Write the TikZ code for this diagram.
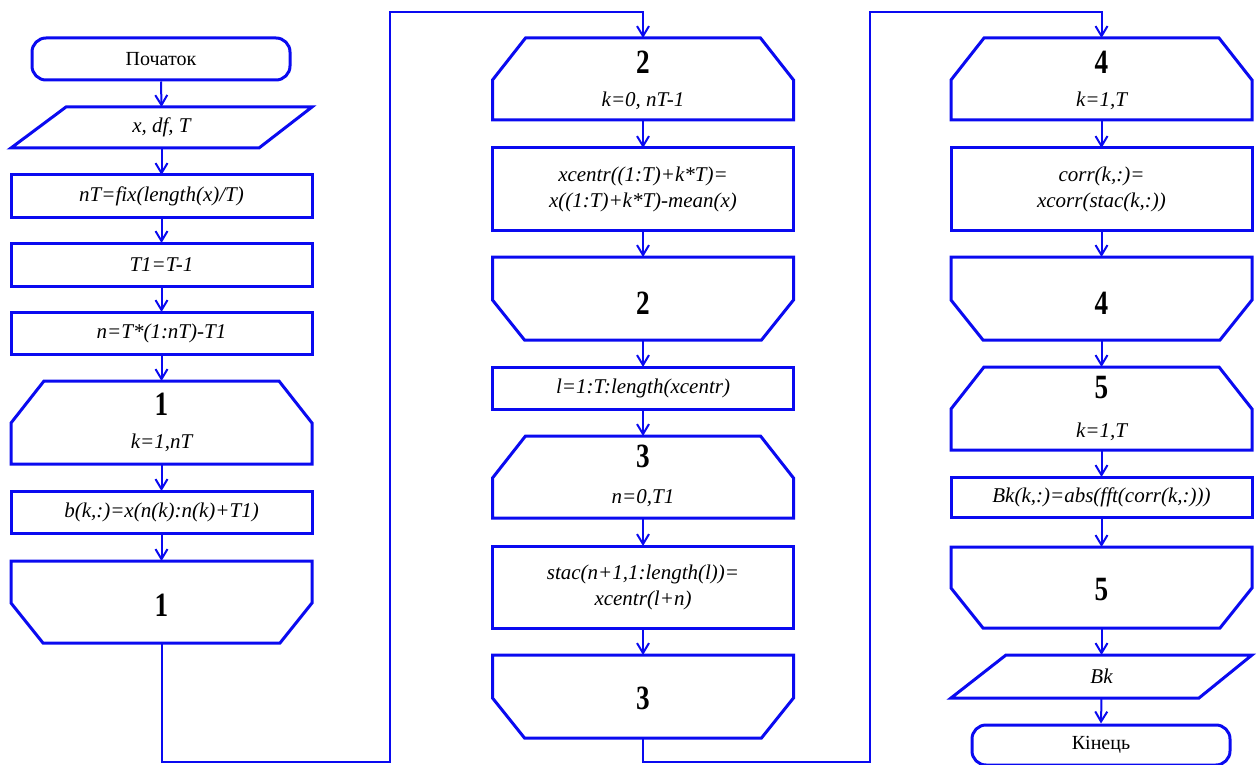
\documentclass[tikz,border=0pt]{standalone}
\usepackage{fontspec}
\setmainfont{Liberation Serif}
\newfontfamily\numfont[FakeStretch=0.8]{Liberation Serif}
\usetikzlibrary{arrows.meta,calc}
\definecolor{lineblue}{RGB}{10,10,240}
\tikzset{
  ln/.style={draw=lineblue, line width=3pt, line join=miter},
  cn/.style={draw=lineblue, line width=2pt, -{Straight Barb[length=10pt,width=12pt]}},
  cnplain/.style={draw=lineblue, line width=2pt},
  txt/.style={font=\fontsize{21}{26}\selectfont\itshape, align=center, inner sep=0pt},
  rtxt/.style={font=\fontsize{20}{24}\selectfont, align=center, inner sep=0pt},
  num/.style={font=\numfont\bfseries\fontsize{34}{34}\selectfont, inner sep=0pt},
  frame/.style={minimum width=301pt, inner sep=0pt, outer sep=0pt},
  proc/.style={frame, ln, font=\fontsize{21}{26}\selectfont\itshape, align=center},
  term/.style={ln, rounded corners=14pt, minimum width=258pt, minimum height=42pt, inner sep=0pt, font=\fontsize{20}{24}\selectfont},
}
\newcommand\loopstartshape[1]{\draw[ln] ($(#1.north west)+(33,0)$) -- ($(#1.north east)+(-33,0)$) -- ($(#1.north east)+(0,42)$) -- (#1.south east) -- (#1.south west) -- ($(#1.north west)+(0,42)$) -- cycle;}
\newcommand\loopendshape[1]{\draw[ln] (#1.north west) -- (#1.north east) -- ($(#1.south east)+(0,-40)$) -- ($(#1.south east)+(-32,0)$) -- ($(#1.south west)+(32,0)$) -- ($(#1.south west)+(0,-40)$) -- cycle;}
\newcommand\ioshape[1]{\draw[ln] ($(#1.north west)+(55,0)$) -- (#1.north east) -- ($(#1.south east)+(-53,0)$) -- (#1.south west) -- cycle;}
\begin{document}
\begin{tikzpicture}[x=1pt,y=-1pt]
\useasboundingbox (0,0) rectangle (1259,765);
% ---------- column 1 ----------
\node[term, minimum height=42pt] (start) at (161,59) {Початок};
\node[frame, minimum height=41pt] (in1) at (161.5,127.5) {};
\ioshape{in1}
\node[txt] (in1t) at (in1.center) {x, df, T};
\node[proc, minimum height=42pt] (r1) at (161.5,196) {nT=fix(length(x)/T)};
\node[proc, minimum height=43pt] (r2) at (161.5,264.5) {T1=T-1};
\node[proc, minimum height=42pt] (r3) at (161.5,333) {n=T*(1:nT)-T1};
\node[frame, minimum height=83pt] (L1) at (161.5,422.5) {};
\loopstartshape{L1}
\node[num] (L1n) at ($(L1.north)+(0,23)$) {1};
\node[txt] (L1c) at ($(L1.north)+(0,62)$) {k=1,nT};
\node[proc, minimum height=42pt] (r4) at (161.5,512) {b(k,:)=x(n(k):n(k)+T1)};
\node[frame, minimum height=82pt] (E1) at (161.5,602) {};
\loopendshape{E1}
\node[num] (E1n) at ($(E1.north)+(0,44)$) {1};
% ---------- column 2 ----------
\node[frame, minimum height=82pt] (L2) at (643,79) {};
\loopstartshape{L2}
\node[num] (L2n) at ($(L2.north)+(0,24)$) {2};
\node[txt] (L2c) at ($(L2.north)+(0,63)$) {k=0, nT-1};
\node[proc, minimum height=82pt] (r5) at (643,189) {xcentr((1:T)+k*T)=\\x((1:T)+k*T)-mean(x)};
\node[frame, minimum height=83pt] (E2) at (643,298.5) {};
\loopendshape{E2}
\node[num] (E2n) at ($(E2.north)+(0,46)$) {2};
\node[proc, minimum height=42pt] (r6) at (643,388) {l=1:T:length(xcentr)};
\node[frame, minimum height=82pt] (L3) at (643,477) {};
\loopstartshape{L3}
\node[num] (L3n) at ($(L3.north)+(0,20)$) {3};
\node[txt] (L3c) at ($(L3.north)+(0,62)$) {n=0,T1};
\node[proc, minimum height=82pt] (r7) at (643,587) {stac(n+1,1:length(l))=\\xcentr(l+n)};
\node[frame, minimum height=83pt] (E3) at (643,696.5) {};
\loopendshape{E3}
\node[num] (E3n) at ($(E3.north)+(0,43)$) {3};
% ---------- column 3 ----------
\node[frame, minimum height=82pt] (L4) at (1101.5,79) {};
\loopstartshape{L4}
\node[num] (L4n) at ($(L4.north)+(0,24)$) {4};
\node[txt] (L4c) at ($(L4.north)+(0,63)$) {k=1,T};
\node[proc, minimum height=82pt] (r8) at (1101.5,189) {corr(k,:)=\\xcorr(stac(k,:))};
\node[frame, minimum height=83pt] (E4) at (1101.5,298.5) {};
\loopendshape{E4}
\node[num] (E4n) at ($(E4.north)+(0,46)$) {4};
\node[frame, minimum height=83pt] (L5) at (1101.5,408.5) {};
\loopstartshape{L5}
\node[num] (L5n) at ($(L5.north)+(0,21)$) {5};
\node[txt] (L5c) at ($(L5.north)+(0,65)$) {k=1,T};
\node[proc, minimum height=40pt] (r9) at (1101.5,497) {Bk(k,:)=abs(fft(corr(k,:)))};
\node[frame, minimum height=81pt] (E5) at (1101.5,587.5) {};
\loopendshape{E5}
\node[num] (E5n) at ($(E5.north)+(0,43)$) {5};
\node[frame, minimum height=43pt] (out) at (1101.5,676.5) {};
\ioshape{out}
\node[txt] (outt) at (out.center) {Bk};
\node[term, minimum height=40pt] (end) at (1101,745) {Кінець};
% ---------- connectors ----------
\draw[cn] (start.south) -- (in1.north);
\draw[cn] (in1.south) -- (r1.north);
\draw[cn] (r1.south) -- (r2.north);
\draw[cn] (r2.south) -- (r3.north);
\draw[cn] (r3.south) -- (L1.north);
\draw[cn] (L1.south) -- (r4.north);
\draw[cn] (r4.south) -- (E1.north);
\coordinate (a1) at (390,762);
\coordinate (a2) at (390,12);
\draw[cn] (E1.south) -- (E1.south |- a1) -- (a1) -- (a2) -- (a2 -| L2.north) -- (L2.north);
\draw[cn] (L2.south) -- (r5.north);
\draw[cn] (r5.south) -- (E2.north);
\draw[cn] (E2.south) -- (r6.north);
\draw[cn] (r6.south) -- (L3.north);
\draw[cn] (L3.south) -- (r7.north);
\draw[cn] (r7.south) -- (E3.north);
\coordinate (b1) at (870,762);
\coordinate (b2) at (870,12);
\draw[cn] (E3.south) -- (E3.south |- b1) -- (b1) -- (b2) -- (b2 -| L4.north) -- (L4.north);
\draw[cn] (L4.south) -- (r8.north);
\draw[cn] (r8.south) -- (E4.north);
\draw[cn] (E4.south) -- (L5.north);
\draw[cn] (L5.south) -- (r9.north);
\draw[cn] (r9.south) -- (E5.north);
\draw[cn] (E5.south) -- (out.north);
\draw[cn] (out.south) -- (end.north);
\end{tikzpicture}
\end{document}
